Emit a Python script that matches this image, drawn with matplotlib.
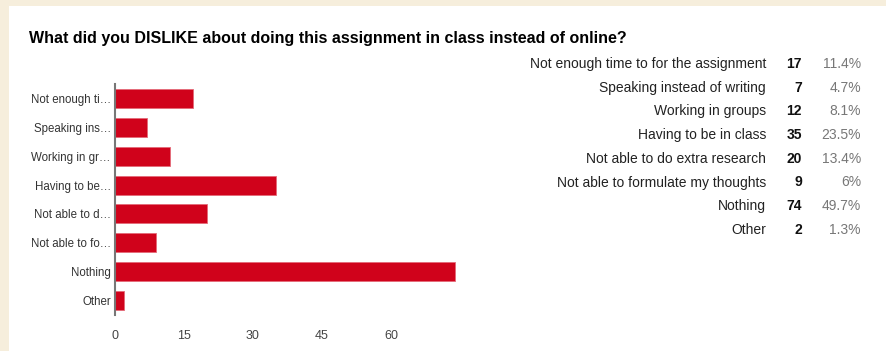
import matplotlib.pyplot as plt
import matplotlib.patches as patches

plt.rcParams['font.family'] = ['Liberation Sans', 'DejaVu Sans']

# survey answers
labels = ["Not enough time to for the assignment", "Speaking instead of writing",
          "Working in groups", "Having to be in class", "Not able to do extra research",
          "Not able to formulate my thoughts", "Nothing", "Other"]
short_labels = ["Not enough ti\u2026", "Speaking ins\u2026", "Working in gr\u2026",
                "Having to be\u2026", "Not able to d\u2026", "Not able to fo\u2026",
                "Nothing", "Other"]
counts = [17, 7, 12, 35, 20, 9, 74, 2]
percents = ["11.4%", "4.7%", "8.1%", "23.5%", "13.4%", "6%", "49.7%", "1.3%"]
xticks = [0, 15, 30, 45, 60]

W, H = 887, 351
fig = plt.figure(figsize=(W / 100, H / 100), dpi=100, facecolor='#f6eedc')

# white panel inside the beige frame
fig.patches.append(patches.Rectangle((9 / W, 0), 1, 1 - 6 / H, transform=fig.transFigure,
                                     facecolor='white', edgecolor='none', zorder=-5))

fig.text(29 / W, 1 - 38 / H, "What did you DISLIKE about doing this assignment in class instead of online?",
         fontsize=11.5, fontweight='bold', color='black', va='center', ha='left')

# bar chart
ax = fig.add_axes([115 / W, 1 - 315 / H, 345 / W, 231 / H])
ax.set_facecolor('none')
y = list(range(len(counts)))
ax.barh(y, counts, height=0.66, color='#d0021b', edgecolor='#e46a78', linewidth=0.6)
ax.set_ylim(len(counts) - 0.5, -0.5)
ax.set_xlim(0, 75)
ax.set_yticks(y)
ax.set_yticklabels(short_labels, fontsize=8.3, color='#333333')
ax.set_xticks(xticks)
ax.set_xticklabels([str(t) for t in xticks], fontsize=9, color='#444444')
ax.tick_params(length=0, axis='y', pad=3)
ax.tick_params(length=0, axis='x', pad=11)
for s in ['top', 'right', 'bottom']:
    ax.spines[s].set_visible(False)
ax.spines['left'].set_color('#777777')
ax.spines['left'].set_linewidth(1.5)

# summary table on the right
for i, (lab, c, p) in enumerate(zip(labels, counts, percents)):
    ty = 1 - (64 + i * 23.7) / H
    fig.text(766 / W, ty, lab, fontsize=10, color='#222222', ha='right', va='center')
    fig.text(802 / W, ty, str(c), fontsize=10, fontweight='bold', color='#111111', ha='right', va='center')
    fig.text(861 / W, ty, p, fontsize=10, color='#777777', ha='right', va='center')

fig.savefig('out.png', dpi=100, facecolor=fig.get_facecolor())
